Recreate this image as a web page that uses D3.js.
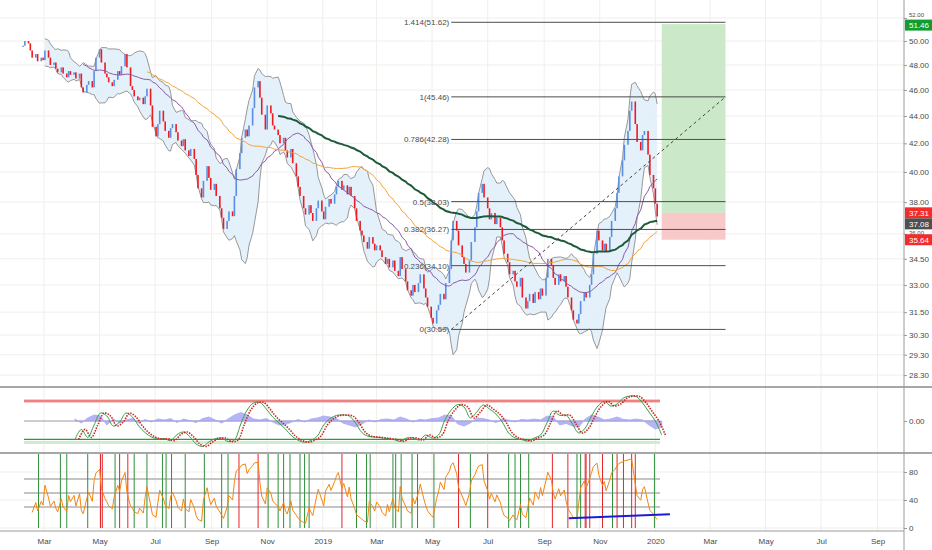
<!DOCTYPE html>
<html><head><meta charset="utf-8">
<script src="https://cdn.jsdelivr.net/npm/d3@7"></script>
<style>
body{margin:0;background:#fff}
svg{display:block}
text{font-family:"Liberation Sans",Arial,sans-serif;font-size:8px;fill:#4a4a4a}
</style>
</head><body><svg width="932" height="550"></svg>
<script>
// daily bars, one close per 2 trading days
var startDate = '2018-02-06';
var closes = [
  49.6, 50.0, 49.8, 49.2, 48.6, 48.9, 48.3, 48.6, 48.4, 49.2,
  48.6, 48.0, 48.2, 47.7, 47.4, 47.8, 47.3, 47.0, 47.5, 47.2,
  47.4, 46.9, 47.3, 46.2, 45.8, 46.4, 46.7, 46.2, 47.5, 48.6,
  49.3, 48.2, 47.3, 47.0, 46.6, 46.3, 46.8, 47.5, 47.2, 47.9,
  48.9, 47.8, 46.3, 46.0, 45.5, 45.2, 45.4, 44.9, 45.5, 46.1,
  44.8, 43.2, 42.5, 43.4, 44.4, 43.6, 42.9, 42.4, 43.1, 43.4,
  42.8, 42.2, 41.8, 42.3, 41.5, 41.1, 41.6, 40.9, 39.8, 38.9,
  38.3, 39.4, 40.4, 39.6, 38.8, 39.2, 38.4, 37.6, 37.0, 36.3,
  36.8, 37.4, 37.1, 38.4, 40.2, 41.3, 42.4, 43.0, 42.5, 43.3,
  44.6, 46.2, 46.7, 45.4, 44.1, 43.0, 44.8, 44.2, 43.3, 43.0,
  42.6, 42.0, 42.4, 41.5, 41.0, 41.6, 40.6, 39.7, 39.0, 38.4,
  37.6, 37.2, 37.8, 37.3, 36.8, 37.6, 38.1, 37.4, 36.9, 37.7,
  38.2, 37.9, 38.5, 39.0, 39.4, 38.8, 39.1, 38.5, 39.0, 38.4,
  37.6, 36.8, 36.2, 35.9, 35.5, 35.1, 35.8, 35.4, 35.0, 35.3,
  35.0, 34.6, 34.2, 34.5, 34.0, 34.4, 33.8, 33.5, 34.6, 33.9,
  33.2, 32.7, 32.4, 33.0, 32.6, 33.1, 33.6, 32.8, 32.3, 31.8,
  31.2, 30.9, 31.6, 31.9, 32.5, 32.2, 33.1, 33.9, 35.6, 36.8,
  36.2, 35.3, 34.6, 34.2, 33.7, 34.4, 35.5, 36.4, 37.4, 38.6,
  39.2, 38.3, 37.6, 36.9, 37.3, 36.6, 37.0, 36.4, 35.6, 34.8,
  34.3, 33.6, 33.8, 33.2, 32.9, 33.4, 32.3, 31.7, 32.1, 32.5,
  32.0, 32.6, 32.2, 32.8, 32.4, 33.4, 34.5, 34.1, 33.4, 33.0,
  33.6, 33.2, 33.5, 32.9, 32.3, 31.6, 31.1, 30.9, 31.4, 32.1,
  32.6, 32.3, 33.0, 33.6, 34.8, 36.2, 35.6, 35.0, 35.4, 34.9,
  35.8, 36.8, 37.6, 38.6, 39.7, 40.8, 41.9, 42.9, 44.4, 45.1,
  43.4, 42.1, 41.5, 42.6, 42.9, 41.2, 39.8, 38.9, 37.9, 37.08
];

// weekly oscillator (middle pane) and its histogram-like area
var oscStart = '2018-04-04';
var osc = [
  -0.92, -0.42, -0.82, -0.2, 0.4, 0.25, -0.25, -0.05, 0.4, 0.2,
  -0.25, -0.58, -0.8, -0.9, -0.88, -0.98, -0.68, -0.55, -0.78, -1.15,
  -1.27, -1.05, -0.88, -0.85, -1.03, -0.95, -0.15, 0.55, 0.9, 0.93,
  0.6, 0.2, -0.1, -0.4, -0.75, -0.97, -1.06, -0.97, -0.75, -0.2,
  0.12, 0.28, 0.3, 0.25, -0.1, -0.58, -0.77, -0.8, -0.84, -0.88,
  -0.93, -1.02, -0.85, -0.85, -0.95, -0.7, -0.85, -0.7, 0.05, 0.55,
  0.82, 0.7, 0.15, 0.45, 0.8, 0.6, 0.35, -0.05, -0.6, -0.85,
  -0.93, -1.0, -0.85, -0.7, -0.1, 0.5, 0.28, 0.3, -0.15, -0.6,
  -0.35, 0.25, 0.75, 0.98, 0.75, 0.85, 1.15, 1.25, 1.22, 0.9,
  0.45, 0.0, -0.7
];
var flow = [
  0.1, -0.1, 0.15, 0.3, 0.25, -0.2, 0.1, -0.1, 0.05, 0.12,
  -0.1, 0.08, -0.05, 0.1, 0.05, 0.12, -0.08, 0.1, 0.02, -0.08,
  0.12, 0.2, 0.05, -0.1, 0.1, 0.3, 0.42, 0.3, 0.1, 0.05,
  0.12, -0.05, -0.2, -0.18, -0.05, 0.08, -0.05, 0.1, 0.15, 0.25,
  0.2, 0.12, -0.1, -0.2, -0.3, -0.15, 0.05, -0.05, 0.08, 0.1,
  0.05, 0.2, 0.1, -0.05, 0.08, 0.05, 0.12, 0.15, 0.3, 0.25,
  -0.15, -0.25, -0.1, 0.15, 0.12, 0.05, -0.08, 0.1, 0.05, -0.05,
  0.08, 0.05, 0.1, 0.05, 0.25, 0.2, -0.2, -0.12, -0.25, -0.3,
  0.1, 0.3, 0.2, 0.05, 0.1, 0.2, 0.08, 0.05, 0.1, 0.05,
  -0.2, -0.4, -0.3
];

var greenSignals = ['2018-02-23','2018-03-19','2018-03-26','2018-04-18','2018-05-18','2018-06-08',
  '2018-06-22','2018-07-09','2018-07-13','2018-07-19','2018-08-03','2018-08-24','2018-09-12',
  '2018-09-19','2018-11-02','2018-11-13','2018-11-19','2018-11-26','2018-12-07','2018-12-12',
  '2018-12-17','2019-02-07','2019-02-18','2019-02-22','2019-03-19','2019-03-22','2019-03-28',
  '2019-04-09','2019-04-15','2019-05-03','2019-06-12','2019-07-24','2019-07-31','2019-08-06',
  '2019-08-15','2019-10-07','2019-10-11','2019-11-15','2019-12-31'];
var redSignals = ['2018-05-02','2018-05-04','2018-05-23','2018-06-01','2018-10-01','2018-10-22',
  '2019-01-22','2019-05-30','2019-07-01','2019-09-10','2019-09-27','2019-10-16','2019-10-17',
  '2019-10-21','2019-11-04','2019-11-20','2019-11-27','2019-12-06','2019-12-10'];
var rsiTrend = [['2019-09-28', 14], ['2020-01-17', 19.7]];

var monthTicks = ['2018-03-01','2018-05-01','2018-07-01','2018-09-01','2018-11-01','2019-01-01',
  '2019-03-01','2019-05-01','2019-07-01','2019-09-01','2019-11-01','2020-01-01',
  '2020-03-01','2020-05-01','2020-07-01','2020-09-01'];
var monthLabels = ['Mar','May','Jul','Sep','Nov','2019','Mar','May','Jul','Sep','Nov','2020','Mar','May','Jul','Sep'];
var priceTicks = [52, 50, 48, 46, 44, 42, 40, 38, 36, 34.5, 33, 31.5, 30.3, 29.3, 28.3];

var fibLevels = [1.414, 1, 0.786, 0.5, 0.382, 0.236, 0];
var fibLow = 30.59, fibHigh = 45.46;
var fibStart = '2019-05-22', fibEnd = '2020-03-18';
var posStart = '2020-01-08';
var entry = 37.31, target = 51.46, stop = 35.64, lastPrice = 37.08;

var svg = d3.select('svg');
var axisX = 904;
var parse = d3.timeParse('%Y-%m-%d');

var x = d3.scaleTime().domain([parse('2018-03-01'), parse('2020-03-01')]).range([44, 710]);
var y = d3.scaleLog().domain([50, 30.3]).range([41, 335]);
var y1 = d3.scaleLinear().domain([-1, 1]).range([441, 401]);
var y2 = d3.scaleLinear().domain([0, 100]).range([528, 458]);

// bars: advance two business days each
var bars = [];
var d = parse(startDate);
closes.forEach(function(c, i) {
	bars.push({ date: new Date(d), open: i ? closes[i - 1] : c, close: c, i: i });
	for (var k = 0; k < 2; k++) {
		do { d = d3.timeDay.offset(d, 1); } while (d.getDay() === 0 || d.getDay() === 6);
	}
});

var sma = function(n) {
	return bars.map(function(b, i) {
		if (i < n - 1) return null;
		return d3.mean(closes.slice(i - n + 1, i + 1));
	});
};
var ema = function(n) {
	var a = 2 / (n + 1), prev = closes[0];
	return closes.map(function(c) { prev = a * c + (1 - a) * prev; return prev; });
};
var bbN = 10;
var bbMid = sma(bbN);
var bbDev = bars.map(function(b, i) {
	if (i < bbN - 1) return null;
	return d3.deviation(closes.slice(i - bbN + 1, i + 1)) * Math.sqrt((bbN - 1) / bbN);
});
var ma1 = sma(25), ma2 = sma(50), ma3 = ema(100);

// rsi (wilder)
var rsiN = 4, rsi = [], ag = 0, al = 0;
closes.forEach(function(c, i) {
	if (i === 0) { rsi.push(null); return; }
	var ch = c - closes[i - 1], g = Math.max(ch, 0), l = Math.max(-ch, 0);
	if (i <= rsiN) { ag += g / rsiN; al += l / rsiN; }
	else { ag = (ag * (rsiN - 1) + g) / rsiN; al = (al * (rsiN - 1) + l) / rsiN; }
	rsi.push(i < rsiN ? null : (al === 0 ? 100 : 100 - 100 / (1 + ag / al)));
});

var defs = svg.append('defs');
[['cMain', 0, 0, axisX, 386], ['cP1', 0, 388, axisX, 64], ['cP2', 0, 454, axisX, 76]].forEach(function(c) {
	defs.append('clipPath').attr('id', c[0]).append('rect')
		.attr('x', c[1]).attr('y', c[2]).attr('width', c[3]).attr('height', c[4]);
});

// grid
var grid = svg.append('g');
monthTicks.forEach(function(m) {
	grid.append('line').attr('x1', x(parse(m))).attr('x2', x(parse(m)))
		.attr('y1', 0).attr('y2', 531).attr('stroke', '#f2eeea');
});
priceTicks.forEach(function(p) {
	grid.append('line').attr('x1', 0).attr('x2', axisX).attr('y1', y(p)).attr('y2', y(p)).attr('stroke', '#f2eeea');
});
[0, 40, 80].forEach(function(v) {
	grid.append('line').attr('x1', 0).attr('x2', axisX).attr('y1', y2(v)).attr('y2', y2(v)).attr('stroke', '#f2eeea');
});

// ---- main pane
var main = svg.append('g').attr('clip-path', 'url(#cMain)');

main.append('rect')
	.attr('x', x(parse(posStart))).attr('width', x(parse(fibEnd)) - x(parse(posStart)))
	.attr('y', y(target)).attr('height', y(entry) - y(target))
	.attr('fill', '#cbe8c8');
main.append('rect')
	.attr('x', x(parse(posStart))).attr('width', x(parse(fibEnd)) - x(parse(posStart)))
	.attr('y', y(entry)).attr('height', y(stop) - y(entry))
	.attr('fill', '#f8c9c9');

var bx = function(b) { return x(b.date); };
main.append('path').datum(bars)
	.attr('fill', '#e1f0fa').attr('fill-opacity', 0.9)
	.attr('d', d3.area().defined(function(b) { return bbMid[b.i] !== null; })
		.x(bx).y0(function(b) { return y(bbMid[b.i] - 2 * bbDev[b.i]); })
		.y1(function(b) { return y(bbMid[b.i] + 2 * bbDev[b.i]); }));
[2, -2].forEach(function(k) {
	main.append('path').datum(bars)
		.attr('fill', 'none').attr('stroke', '#8c8c8c').attr('stroke-width', 0.9)
		.attr('d', d3.line().defined(function(b) { return bbMid[b.i] !== null; })
			.x(bx).y(function(b) { return y(bbMid[b.i] + k * bbDev[b.i]); }));
});

main.append('g').selectAll('rect').data(bars).enter().append('rect')
	.attr('x', function(b) { return bx(b) - 0.8; })
	.attr('width', 1.6)
	.attr('y', function(b) { return y(Math.max(b.open, b.close)); })
	.attr('height', function(b) { return Math.max(1.2, Math.abs(y(b.open) - y(b.close))); })
	.attr('fill', function(b) { return b.close >= b.open ? '#5a8ee2' : '#ee1a22'; });

[[ma1, '#8d5aa6', 1, 24], [ma2, '#f4a33c', 1, 49], [ma3, '#1d5a39', 2, 100]].forEach(function(m) {
	main.append('path').datum(bars)
		.attr('fill', 'none').attr('stroke', m[1]).attr('stroke-width', m[2])
		.attr('d', d3.line().defined(function(b) { return b.i >= m[3] && m[0][b.i] !== null; })
			.x(bx).y(function(b) { return y(m[0][b.i]); }));
});

// fib retracement
var fx0 = x(parse(fibStart)), fx1 = x(parse(fibEnd));
fibLevels.forEach(function(l) {
	var p = Math.round((fibLow + l * (fibHigh - fibLow)) * 100 + 1e-6) / 100;
	main.append('line').attr('x1', fx0).attr('x2', fx1).attr('y1', y(p)).attr('y2', y(p))
		.attr('stroke', '#4d4d4d').attr('stroke-width', 1);
	main.append('text').attr('x', fx0 - 2).attr('y', y(p) + 3).attr('text-anchor', 'end')
		.text(l + '(' + p.toFixed(2) + ')');
});
main.append('line').attr('x1', fx0).attr('y1', y(fibLow)).attr('x2', fx1).attr('y2', y(fibHigh))
	.attr('stroke', '#444').attr('stroke-dasharray', '3,3');

// ---- pane 1 oscillator
var p1 = svg.append('g').attr('clip-path', 'url(#cP1)');
var od = function(k, lag) { return d3.timeDay.offset(parse(oscStart), 7 * k + (lag || 0)); };
p1.append('rect').attr('x', 24).attr('width', 636).attr('y', y1(1.1)).attr('height', y1(0.9) - y1(1.1)).attr('fill', '#f8cccc');
p1.append('line').attr('x1', 24).attr('x2', 660).attr('y1', y1(1)).attr('y2', y1(1)).attr('stroke', '#e53935').attr('stroke-width', 1.2);
p1.append('rect').attr('x', 24).attr('width', 636).attr('y', y1(-1)).attr('height', y1(-1.15) - y1(-1)).attr('fill', '#cfeccf');
p1.append('line').attr('x1', 24).attr('x2', 660).attr('y1', y1(-0.92)).attr('y2', y1(-0.92)).attr('stroke', '#2e9a3c').attr('stroke-width', 1.2);
p1.append('line').attr('x1', 24).attr('x2', 660).attr('y1', y1(0)).attr('y2', y1(0)).attr('stroke', '#9a9a9a');
p1.append('path').datum(flow)
	.attr('fill', '#9c9cf2').attr('fill-opacity', 0.75).attr('stroke', '#a8a8f5').attr('stroke-width', 0.8)
	.attr('d', d3.area().x(function(v, k) { return x(od(k)); }).y0(y1(0)).y1(function(v) { return y1(v); }));
p1.append('path').datum(osc)
	.attr('fill', 'none').attr('stroke', '#3f9e4c').attr('stroke-width', 1)
	.attr('d', d3.line().curve(d3.curveCatmullRom).x(function(v, k) { return x(od(k)); }).y(function(v) { return y1(v); }));
p1.append('path').datum(osc)
	.attr('fill', 'none').attr('stroke', '#c62a22').attr('stroke-width', 1.6).attr('stroke-dasharray', '1.5,1.2')
	.attr('d', d3.line().curve(d3.curveCatmullRom).x(function(v, k) { return x(od(k, 4)); }).y(function(v) { return y1(v); }));

// ---- pane 2 rsi
var p2 = svg.append('g').attr('clip-path', 'url(#cP2)');
[70, 50, 30].forEach(function(v) {
	p2.append('line').attr('x1', 24).attr('x2', 660).attr('y1', y2(v)).attr('y2', y2(v))
		.attr('stroke', '#c4c4c4').attr('stroke-width', 2.2);
});
greenSignals.forEach(function(s) {
	p2.append('line').attr('x1', x(parse(s))).attr('x2', x(parse(s))).attr('y1', 454).attr('y2', y2(0))
		.attr('stroke', '#2f8f3b').attr('stroke-width', 1);
});
redSignals.forEach(function(s) {
	p2.append('line').attr('x1', x(parse(s))).attr('x2', x(parse(s))).attr('y1', 454).attr('y2', y2(0))
		.attr('stroke', '#e3262b').attr('stroke-width', 1);
});
p2.append('path').datum(bars)
	.attr('fill', 'none').attr('stroke', '#f5850f').attr('stroke-width', 1)
	.attr('d', d3.line().defined(function(b) { return rsi[b.i] !== null; })
		.x(bx).y(function(b) { return y2(rsi[b.i]); }));
p2.append('line')
	.attr('x1', x(parse(rsiTrend[0][0]))).attr('y1', y2(rsiTrend[0][1]))
	.attr('x2', x(parse(rsiTrend[1][0]))).attr('y2', y2(rsiTrend[1][1]))
	.attr('stroke', '#1b1bd8').attr('stroke-width', 2);

// ---- frame and axes
svg.append('line').attr('x1', 0).attr('x2', 932).attr('y1', 387).attr('y2', 387).attr('stroke', '#8a8a8a').attr('stroke-width', 1.6);
svg.append('line').attr('x1', 0).attr('x2', 932).attr('y1', 453).attr('y2', 453).attr('stroke', '#8a8a8a').attr('stroke-width', 1.6);
svg.append('line').attr('x1', 0).attr('x2', axisX).attr('y1', 531).attr('y2', 531).attr('stroke', '#9a9a9a');
svg.append('line').attr('x1', axisX).attr('x2', axisX).attr('y1', 0).attr('y2', 550).attr('stroke', '#9a9a9a');

var styleAxis = function(g) {
	g.select('.domain').remove();
	g.selectAll('line').attr('stroke', '#9a9a9a');
	g.selectAll('text').attr('fill', '#4f4f4f').style('font-family', '"Liberation Sans",Arial,sans-serif').style('font-size', '8px');
};
// price ticks that sit under a tag are shown only as the bit that peeks out
var hidden = [52, 36];
svg.append('g').attr('transform', 'translate(' + axisX + ',0)')
	.call(d3.axisRight(y).tickValues(priceTicks).tickFormat(d3.format('.2f')).tickSize(3).tickPadding(2))
	.call(styleAxis)
	.selectAll('.tick text').filter(function(p) { return hidden.indexOf(p) >= 0; })
	.style('font-size', '6px').attr('dy', function(p) { return p === 52 ? '-0.2em' : '0.1em'; });
svg.append('g').attr('transform', 'translate(' + axisX + ',0)')
	.call(d3.axisRight(y1).tickValues([0]).tickFormat(d3.format('.2f')).tickSize(3).tickPadding(2))
	.call(styleAxis);
svg.append('g').attr('transform', 'translate(' + axisX + ',0)')
	.call(d3.axisRight(y2).tickValues([0, 40, 80]).tickFormat(d3.format('d')).tickSize(3).tickPadding(2))
	.call(styleAxis);
svg.append('g').attr('transform', 'translate(0,531)')
	.call(d3.axisBottom(x).tickValues(monthTicks.map(parse))
		.tickFormat(function(t, i) { return monthLabels[i]; }).tickSize(0).tickPadding(7))
	.call(styleAxis);

// price labels on the axis
var tags = [[target, '#0f9d2f', y(target) + 1], [entry, '#f22b2b', y(entry)],
	[lastPrice, '#4f4f4f', Math.max(y(lastPrice), y(entry) + 11)], [stop, '#f22b2b', y(stop)]];
tags.forEach(function(t) {
	svg.append('rect').attr('x', axisX + 1).attr('y', t[2] - 5.5).attr('width', 27).attr('height', 11).attr('fill', t[1]);
	svg.append('text').attr('x', axisX + 5).attr('y', t[2] + 3).style('fill', '#fff').text(t[0].toFixed(2));
});
</script>
</body></html>
